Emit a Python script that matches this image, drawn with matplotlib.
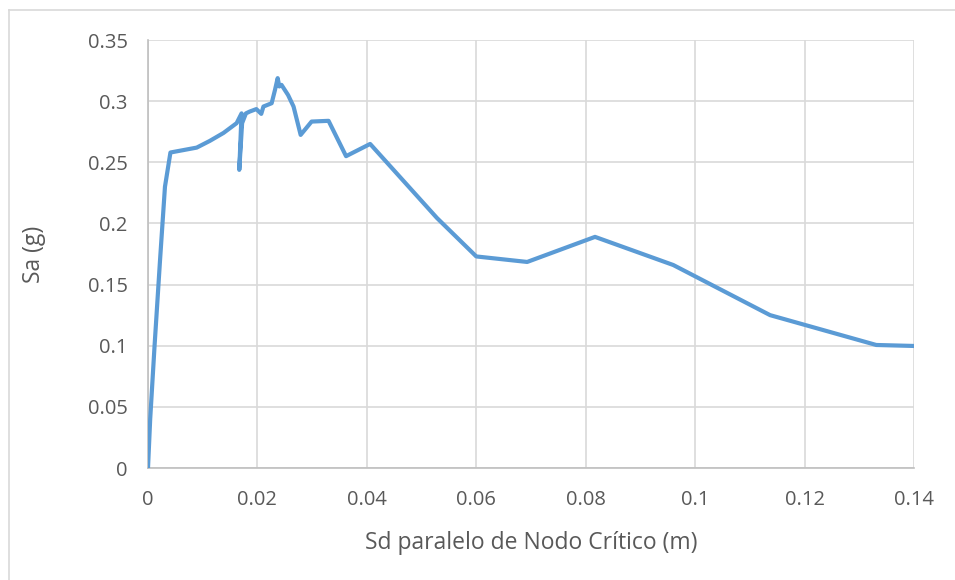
import numpy as np
import matplotlib.pyplot as plt
from matplotlib.lines import Line2D

# capacity curve: spectral displacement (m) vs spectral acceleration (g)
sd = [0.0, 0.0004, 0.0012, 0.0022, 0.0031, 0.0041, 0.0065, 0.0089, 0.0113,
      0.0138, 0.0162, 0.0171, 0.01668, 0.0172, 0.0179, 0.0186, 0.0198,
      0.0207, 0.0211, 0.0226, 0.0232, 0.0237, 0.0240, 0.0244, 0.0256,
      0.0266, 0.0279, 0.0299, 0.0330, 0.0362, 0.0406, 0.0528, 0.0600,
      0.0693, 0.0817, 0.0960, 0.1137, 0.1331, 0.1400]
sa = [0.0, 0.040, 0.100, 0.170, 0.230, 0.258, 0.260, 0.262, 0.2675,
      0.274, 0.282, 0.290, 0.2438, 0.282, 0.290, 0.2915, 0.2935,
      0.2896, 0.2956, 0.2983, 0.309, 0.3188, 0.312, 0.3133, 0.305,
      0.2956, 0.2724, 0.2833, 0.2839, 0.255, 0.265, 0.2045, 0.173,
      0.1685, 0.189, 0.166, 0.125, 0.1006, 0.0998]

x_ticks = [0, 0.02, 0.04, 0.06, 0.08, 0.1, 0.12, 0.14]
x_labels = ["0", "0.02", "0.04", "0.06", "0.08", "0.1", "0.12", "0.14"]
y_ticks = [0, 0.05, 0.1, 0.15, 0.2, 0.25, 0.3, 0.35]
y_labels = ["0", "0.05", "0.1", "0.15", "0.2", "0.25", "0.3", "0.35"]

plt.rcParams['font.family'] = ['Open Sans', 'DejaVu Sans']

fig = plt.figure(figsize=(9.55, 5.8), dpi=100)
ax = fig.add_axes([148/955, 1-468/580, (914-148)/955, (468-40)/580])

ax.plot(sd, sa, color="#5B9BD5", linewidth=3.0, solid_joinstyle="round",
        solid_capstyle="round", zorder=3)

ax.set_xlim(0, 0.14)
ax.set_ylim(0, 0.35)
ax.set_xticks(x_ticks)
ax.set_xticklabels(x_labels)
ax.set_yticks(y_ticks)
ax.set_yticklabels(y_labels)
ax.grid(True, color="#D9D9D9", linewidth=1.2)
ax.set_axisbelow(True)

for s in ["top", "right"]:
    ax.spines[s].set_visible(False)
for s in ["left", "bottom"]:
    ax.spines[s].set_color("#BFBFBF")
    ax.spines[s].set_linewidth(1.2)
ax.tick_params(length=0, labelsize=14.5, colors="#595959")
ax.tick_params(axis="x", pad=16)
ax.tick_params(axis="y", pad=14.5)

ax.set_xlabel("Sd paralelo de Nodo Crítico (m)", fontsize=16.5, color="#595959", labelpad=15)
ax.set_ylabel("Sa (g)", fontsize=16.5, color="#595959", labelpad=30)

# chart area border (top and left edges visible)
fig.add_artist(Line2D([9/955, 9/955], [0, 1-10/580], transform=fig.transFigure,
                      color="#D9D9D9", linewidth=1.2))
fig.add_artist(Line2D([9/955, 1], [1-10/580, 1-10/580], transform=fig.transFigure,
                      color="#D9D9D9", linewidth=1.2))

fig.savefig("out.png", dpi=100)
